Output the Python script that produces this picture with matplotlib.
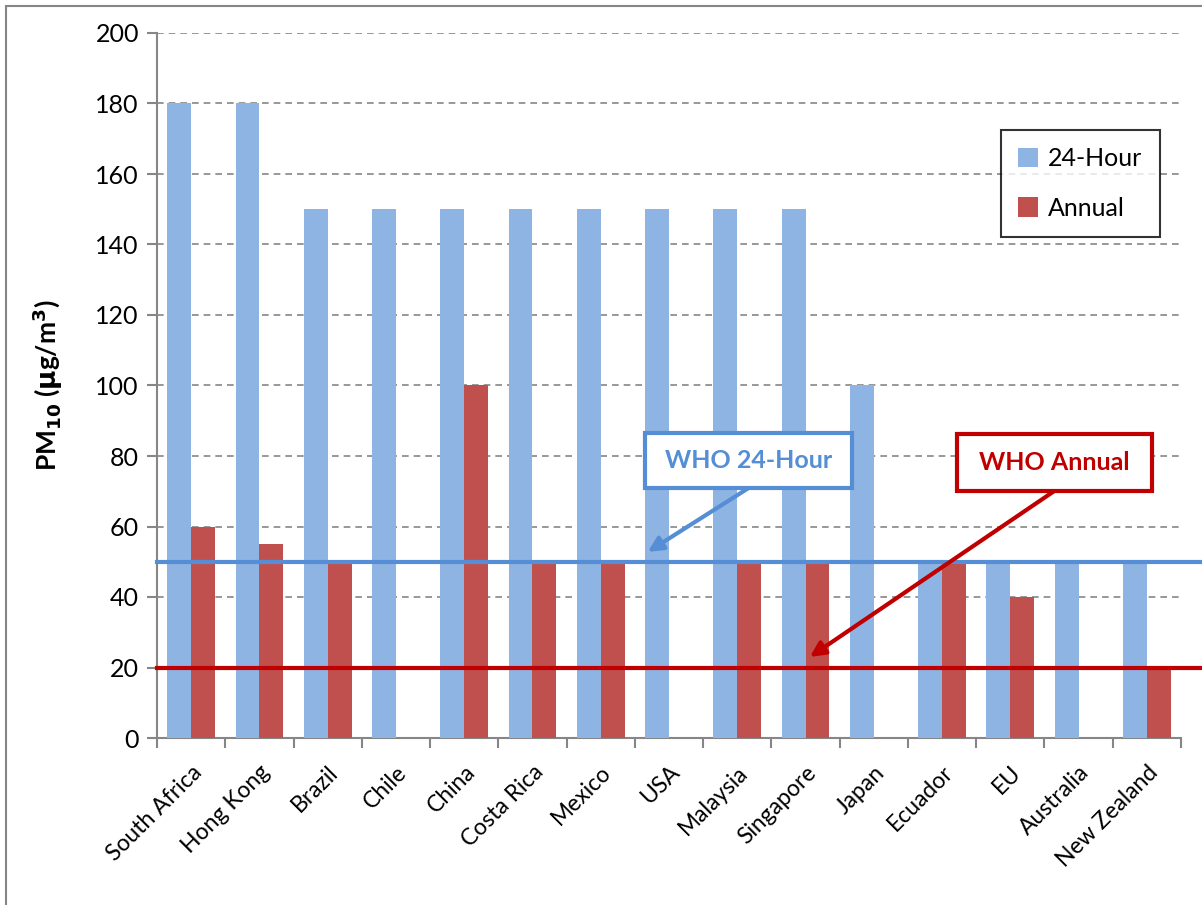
import numpy as np
import matplotlib
matplotlib.use("Agg")
import matplotlib.pyplot as plt
from matplotlib.patches import Rectangle

countries = ["South Africa", "Hong Kong", "Brazil", "Chile", "China", "Costa Rica",
             "Mexico", "USA", "Malaysia", "Singapore", "Japan", "Ecuador", "EU",
             "Australia", "New Zealand"]
hour24 = [180, 180, 150, 150, 150, 150, 150, 150, 150, 150, 100, 50, 50, 50, 50]
annual = [60, 55, 50, np.nan, 100, 50, 50, np.nan, 50, 50, np.nan, 50, 40, np.nan, 20]
who_24h = 50
who_annual = 20

BLUE = "#8EB4E3"
RED = "#C0504D"
LINE_BLUE = "#558ED5"
LINE_RED = "#C00000"
GRAY = "#868686"

plt.rcParams["font.family"] = ["Lato", "DejaVu Sans"]

fig = plt.figure(figsize=(12.02, 9.05), dpi=100)
ax = fig.add_axes([157 / 1202, 1 - 738 / 905, (1181 - 157) / 1202, (738 - 33) / 905])

# figure frame (left/top visible, rest cropped)
fig.patches.append(Rectangle((6 / 1202, -0.1), 1.2, (905 - 6) / 905 + 0.1,
                             transform=fig.transFigure, fill=False,
                             edgecolor=GRAY, linewidth=1.5))

x = np.arange(len(countries))
w = 0.35
ax.bar(x - w / 2, hour24, w, color=BLUE, label="24-Hour", zorder=3)
ax.bar(x + w / 2, annual, w, color=RED, label="Annual", zorder=3)

ax.set_xlim(-0.5, len(countries) - 0.5)
ax.set_ylim(0, 200)
ax.set_yticks(range(0, 201, 20))
ax.yaxis.grid(True, linestyle=(0, (4, 3)), color=GRAY, linewidth=1.2, zorder=0)
ax.set_axisbelow(True)

ax.set_xticks(np.arange(-0.5, len(countries), 1.0))
ax.set_xticklabels([])
ax.set_xticks(x, minor=True)
ax.set_xticklabels(countries, minor=True, rotation=45, ha="right",
                   rotation_mode="anchor", fontsize=16.5)
ax.tick_params(axis="x", which="minor", length=0, pad=17)
ax.tick_params(axis="x", which="major", length=7, width=1.5, color=GRAY)
ax.tick_params(axis="y", length=7, width=1.5, color=GRAY, labelsize=18, pad=6)

for s in ("top", "right"):
    ax.spines[s].set_visible(False)
for s in ("left", "bottom"):
    ax.spines[s].set_color(GRAY)
    ax.spines[s].set_linewidth(1.5)

ax.set_ylabel(r"PM$_{\mathbf{10}}$ ($\mathbf{\mu}$g/m$^{\mathbf{3}}$)",
              fontsize=19, fontweight="bold", labelpad=22)

# WHO guideline lines, running past the axes to the image edge
ax.axhline(who_24h, xmin=0, xmax=1.03, color=LINE_BLUE, linewidth=3, clip_on=False, zorder=4)
ax.axhline(who_annual, xmin=0, xmax=1.03, color=LINE_RED, linewidth=3, clip_on=False, zorder=4)

# callout boxes
def callout(x0, x1, y0, y1, text, color, tip):
    ax.add_patch(Rectangle((x0, y0), x1 - x0, y1 - y0, facecolor="white",
                           edgecolor=color, linewidth=3, zorder=6, clip_on=False))
    ax.text((x0 + x1) / 2, (y0 + y1) / 2, text, color=color, fontsize=18,
            fontweight="bold", ha="center", va="center", zorder=7)
    ax.annotate("", xy=tip, xytext=((x0 + x1) / 2, y0),
                arrowprops=dict(arrowstyle="-|>", color=color, lw=3,
                                mutation_scale=22, shrinkA=0, shrinkB=0),
                zorder=5)

callout(6.648, 9.680, 70.9, 86.5, "WHO 24-Hour", LINE_BLUE, (6.69, 52.8))
callout(11.218, 14.075, 70.1, 86.2, "WHO Annual", LINE_RED, (9.065, 23.0))

leg = ax.legend(loc="upper right", bbox_to_anchor=(1160 / 1202, 1 - 130 / 905),
                bbox_transform=fig.transFigure, fontsize=18, frameon=True,
                fancybox=False, edgecolor="black", labelspacing=1.05,
                handlelength=0.8, handleheight=0.8, handletextpad=0.4,
                borderpad=0.7, borderaxespad=0)
leg.get_frame().set_linewidth(1.5)
leg.set_zorder(10)

fig.savefig("out.png", dpi=100)
